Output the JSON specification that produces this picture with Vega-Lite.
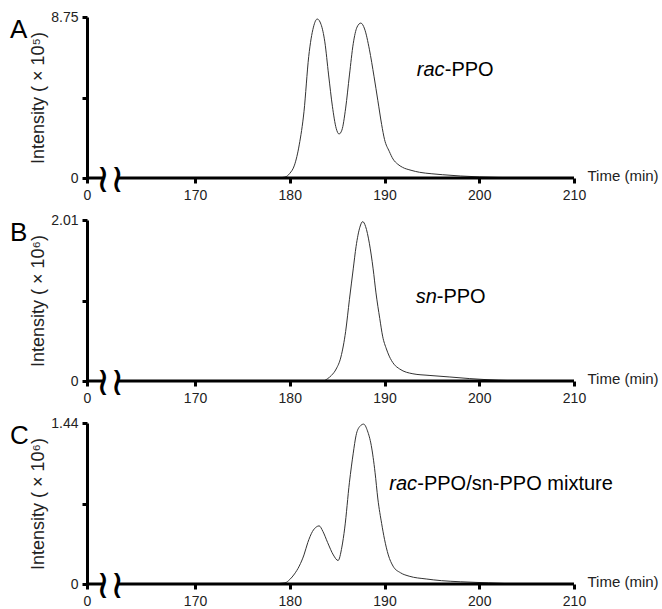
{
  "$schema": "https://vega.github.io/schema/vega-lite/v6.json",
  "background": "white",
  "padding": {"left": 10, "top": 10, "right": 0, "bottom": 0},
  "spacing": 11,
  "datasets": {
    "rac": [
      {"time": 178, "intensity": 0}, {"time": 179, "intensity": 0.02}, {"time": 179.5, "intensity": 0.05},
      {"time": 180, "intensity": 0.25}, {"time": 180.5, "intensity": 0.7}, {"time": 181, "intensity": 1.8},
      {"time": 181.5, "intensity": 3.6}, {"time": 182, "intensity": 6.6}, {"time": 182.5, "intensity": 8.2},
      {"time": 182.9, "intensity": 8.64}, {"time": 183.3, "intensity": 8.35}, {"time": 183.7, "intensity": 7.4},
      {"time": 184.1, "intensity": 5.6}, {"time": 184.5, "intensity": 3.9}, {"time": 184.9, "intensity": 2.7},
      {"time": 185.2, "intensity": 2.39}, {"time": 185.5, "intensity": 2.6}, {"time": 185.9, "intensity": 3.8},
      {"time": 186.3, "intensity": 5.6}, {"time": 186.7, "intensity": 7.3}, {"time": 187.1, "intensity": 8.2},
      {"time": 187.5, "intensity": 8.42}, {"time": 187.9, "intensity": 8.1}, {"time": 188.4, "intensity": 7.0},
      {"time": 188.9, "intensity": 5.5}, {"time": 189.3, "intensity": 4.2}, {"time": 189.7, "intensity": 2.9},
      {"time": 190.0, "intensity": 2.1}, {"time": 190.5, "intensity": 1.45}, {"time": 190.9, "intensity": 1.03},
      {"time": 191.4, "intensity": 0.75}, {"time": 191.9, "intensity": 0.58}, {"time": 192.8, "intensity": 0.42},
      {"time": 193.7, "intensity": 0.31}, {"time": 195, "intensity": 0.23}, {"time": 196.1, "intensity": 0.18},
      {"time": 198, "intensity": 0.11}, {"time": 200, "intensity": 0.06}, {"time": 202, "intensity": 0.03},
      {"time": 205, "intensity": 0.01}, {"time": 210, "intensity": 0}
    ],
    "sn": [
      {"time": 182, "intensity": 0}, {"time": 183.5, "intensity": 0}, {"time": 184, "intensity": 0.03},
      {"time": 184.4, "intensity": 0.07}, {"time": 184.9, "intensity": 0.15}, {"time": 185.4, "intensity": 0.3},
      {"time": 185.9, "intensity": 0.62}, {"time": 186.3, "intensity": 1.02}, {"time": 186.7, "intensity": 1.4},
      {"time": 187.0, "intensity": 1.68}, {"time": 187.4, "intensity": 1.92}, {"time": 187.7, "intensity": 1.99},
      {"time": 188.0, "intensity": 1.93}, {"time": 188.4, "intensity": 1.72}, {"time": 188.8, "intensity": 1.4},
      {"time": 189.1, "intensity": 1.1}, {"time": 189.5, "intensity": 0.78}, {"time": 189.8, "intensity": 0.56},
      {"time": 190.2, "intensity": 0.4}, {"time": 190.5, "intensity": 0.31}, {"time": 191.0, "intensity": 0.21},
      {"time": 191.6, "intensity": 0.15}, {"time": 193.0, "intensity": 0.09}, {"time": 194.7, "intensity": 0.07},
      {"time": 196.9, "intensity": 0.05}, {"time": 199, "intensity": 0.03}, {"time": 202, "intensity": 0.01},
      {"time": 205, "intensity": 0}
    ],
    "mix": [
      {"time": 178, "intensity": 0}, {"time": 179.5, "intensity": 0.01}, {"time": 180.0, "intensity": 0.04},
      {"time": 180.5, "intensity": 0.09}, {"time": 181.0, "intensity": 0.16}, {"time": 181.5, "intensity": 0.26},
      {"time": 181.9, "intensity": 0.37}, {"time": 182.4, "intensity": 0.47}, {"time": 182.8, "intensity": 0.51},
      {"time": 183.1, "intensity": 0.52}, {"time": 183.5, "intensity": 0.47}, {"time": 184.0, "intensity": 0.37},
      {"time": 184.6, "intensity": 0.26}, {"time": 185.1, "intensity": 0.21}, {"time": 185.5, "intensity": 0.33},
      {"time": 185.8, "intensity": 0.5}, {"time": 186.3, "intensity": 0.91}, {"time": 186.7, "intensity": 1.17},
      {"time": 187.0, "intensity": 1.33}, {"time": 187.4, "intensity": 1.41}, {"time": 187.8, "intensity": 1.43},
      {"time": 188.2, "intensity": 1.37}, {"time": 188.6, "intensity": 1.24}, {"time": 189.0, "intensity": 1.0},
      {"time": 189.3, "intensity": 0.76}, {"time": 189.7, "intensity": 0.54}, {"time": 190.0, "intensity": 0.4},
      {"time": 190.4, "intensity": 0.26}, {"time": 190.9, "intensity": 0.16}, {"time": 191.7, "intensity": 0.1},
      {"time": 192.6, "intensity": 0.07}, {"time": 194.4, "intensity": 0.045}, {"time": 196, "intensity": 0.03},
      {"time": 198, "intensity": 0.02}, {"time": 201, "intensity": 0.01}, {"time": 204, "intensity": 0}
    ]
  },
  "vconcat": [
    {
      "width": 487, "height": 161,
      "title": {"text": "A", "anchor": "start", "frame": "group", "fontSize": 26, "fontWeight": "normal", "font": "Liberation Sans", "color": "black", "dx": -77, "dy": 37},
      "layer": [
        {
          "data": {"name": "rac"},
          "mark": {"type": "line", "color": "#333", "strokeWidth": 1, "interpolate": "monotone"},
          "encoding": {
            "x": {"field": "time", "type": "quantitative", "scale": {"domain": [158.6, 210], "nice": false, "zero": false},
              "axis": {"domain": false, "values": [158.6, 170, 180, 190, 200, 210], "labelExpr": "datum.value < 160 ? '0' : format(datum.value, 'd')", "title": "Time (min)", "titleX": 500, "titleY": -3, "titleAlign": "left", "titleBaseline": "middle", "titleAngle": 0, "titleFontSize": 15}},
            "y": {"field": "intensity", "type": "quantitative", "scale": {"domain": [0, 8.75], "nice": false},
              "axis": {"values": [0, 4.375, 8.75], "labelExpr": "datum.value == 0 ? '0' : datum.value > 8 ? '8.75' : ''", "title": "Intensity ( × 10⁵)"}}
          }
        },
        {
          "data": {"values": [{}]},
          "mark": {"type": "rule", "color": "black", "strokeWidth": 3},
          "encoding": {"x": {"datum": 158.6}, "x2": {"datum": 160.3}, "y": {"datum": 0}}
        },
        {
          "data": {"values": [{}]},
          "mark": {"type": "rule", "color": "black", "strokeWidth": 3},
          "encoding": {"x": {"datum": 161.8}, "x2": {"datum": 210}, "y": {"datum": 0}}
        },
        {
          "data": {"values": [{}]},
          "mark": {"type": "text", "font": "DejaVu Sans", "fontSize": 40, "baseline": "middle", "align": "center", "color": "black", "dy": 2},
          "encoding": {"x": {"datum": 160.3}, "y": {"datum": 0}, "text": {"value": "≀"}}
        },
        {
          "data": {"values": [{}]},
          "mark": {"type": "text", "font": "DejaVu Sans", "fontSize": 40, "baseline": "middle", "align": "center", "color": "black", "dy": 2},
          "encoding": {"x": {"datum": 161.8}, "y": {"datum": 0}, "text": {"value": "≀"}}
        },
        {
          "data": {"values": [{}]},
          "mark": {"type": "text", "font": "Liberation Sans", "fontSize": 20, "fontStyle": "italic", "baseline": "middle", "align": "left", "color": "black"},
          "encoding": {"x": {"datum": 193.4}, "y": {"datum": 5.87}, "text": {"value": "rac"}}
        },
        {
          "data": {"values": [{}]},
          "mark": {"type": "text", "font": "Liberation Sans", "fontSize": 20, "baseline": "middle", "align": "left", "color": "black", "dx": 28},
          "encoding": {"x": {"datum": 193.4}, "y": {"datum": 5.87}, "text": {"value": "-PPO"}}
        }
      ]
    },
    {
      "width": 487, "height": 161,
      "title": {"text": "B", "anchor": "start", "frame": "group", "fontSize": 26, "fontWeight": "normal", "font": "Liberation Sans", "color": "black", "dx": -77, "dy": 37},
      "layer": [
        {
          "data": {"name": "sn"},
          "mark": {"type": "line", "color": "#333", "strokeWidth": 1, "interpolate": "monotone"},
          "encoding": {
            "x": {"field": "time", "type": "quantitative", "scale": {"domain": [158.6, 210], "nice": false, "zero": false},
              "axis": {"domain": false, "values": [158.6, 170, 180, 190, 200, 210], "labelExpr": "datum.value < 160 ? '0' : format(datum.value, 'd')", "title": "Time (min)", "titleX": 500, "titleY": -3, "titleAlign": "left", "titleBaseline": "middle", "titleAngle": 0, "titleFontSize": 15}},
            "y": {"field": "intensity", "type": "quantitative", "scale": {"domain": [0, 2.01], "nice": false},
              "axis": {"values": [0, 1.005, 2.01], "labelExpr": "datum.value == 0 ? '0' : datum.value > 2 ? '2.01' : ''", "title": "Intensity ( × 10⁶)"}}
          }
        },
        {
          "data": {"values": [{}]},
          "mark": {"type": "rule", "color": "black", "strokeWidth": 3},
          "encoding": {"x": {"datum": 158.6}, "x2": {"datum": 160.3}, "y": {"datum": 0}}
        },
        {
          "data": {"values": [{}]},
          "mark": {"type": "rule", "color": "black", "strokeWidth": 3},
          "encoding": {"x": {"datum": 161.8}, "x2": {"datum": 210}, "y": {"datum": 0}}
        },
        {
          "data": {"values": [{}]},
          "mark": {"type": "text", "font": "DejaVu Sans", "fontSize": 40, "baseline": "middle", "align": "center", "color": "black", "dy": 2},
          "encoding": {"x": {"datum": 160.3}, "y": {"datum": 0}, "text": {"value": "≀"}}
        },
        {
          "data": {"values": [{}]},
          "mark": {"type": "text", "font": "DejaVu Sans", "fontSize": 40, "baseline": "middle", "align": "center", "color": "black", "dy": 2},
          "encoding": {"x": {"datum": 161.8}, "y": {"datum": 0}, "text": {"value": "≀"}}
        },
        {
          "data": {"values": [{}]},
          "mark": {"type": "text", "font": "Liberation Sans", "fontSize": 20, "fontStyle": "italic", "baseline": "middle", "align": "left", "color": "black"},
          "encoding": {"x": {"datum": 193.3}, "y": {"datum": 1.046}, "text": {"value": "sn"}}
        },
        {
          "data": {"values": [{}]},
          "mark": {"type": "text", "font": "Liberation Sans", "fontSize": 20, "baseline": "middle", "align": "left", "color": "black", "dx": 21},
          "encoding": {"x": {"datum": 193.3}, "y": {"datum": 1.046}, "text": {"value": "-PPO"}}
        }
      ]
    },
    {
      "width": 487, "height": 161,
      "title": {"text": "C", "anchor": "start", "frame": "group", "fontSize": 26, "fontWeight": "normal", "font": "Liberation Sans", "color": "black", "dx": -77, "dy": 37},
      "layer": [
        {
          "data": {"name": "mix"},
          "mark": {"type": "line", "color": "#333", "strokeWidth": 1, "interpolate": "monotone"},
          "encoding": {
            "x": {"field": "time", "type": "quantitative", "scale": {"domain": [158.6, 210], "nice": false, "zero": false},
              "axis": {"domain": false, "values": [158.6, 170, 180, 190, 200, 210], "labelExpr": "datum.value < 160 ? '0' : format(datum.value, 'd')", "title": "Time (min)", "titleX": 500, "titleY": -3, "titleAlign": "left", "titleBaseline": "middle", "titleAngle": 0, "titleFontSize": 15}},
            "y": {"field": "intensity", "type": "quantitative", "scale": {"domain": [0, 1.44], "nice": false},
              "axis": {"values": [0, 0.72, 1.44], "labelExpr": "datum.value == 0 ? '0' : datum.value > 1.4 ? '1.44' : ''", "title": "Intensity ( × 10⁶)"}}
          }
        },
        {
          "data": {"values": [{}]},
          "mark": {"type": "rule", "color": "black", "strokeWidth": 3},
          "encoding": {"x": {"datum": 158.6}, "x2": {"datum": 160.3}, "y": {"datum": 0}}
        },
        {
          "data": {"values": [{}]},
          "mark": {"type": "rule", "color": "black", "strokeWidth": 3},
          "encoding": {"x": {"datum": 161.8}, "x2": {"datum": 210}, "y": {"datum": 0}}
        },
        {
          "data": {"values": [{}]},
          "mark": {"type": "text", "font": "DejaVu Sans", "fontSize": 40, "baseline": "middle", "align": "center", "color": "black", "dy": 2},
          "encoding": {"x": {"datum": 160.3}, "y": {"datum": 0}, "text": {"value": "≀"}}
        },
        {
          "data": {"values": [{}]},
          "mark": {"type": "text", "font": "DejaVu Sans", "fontSize": 40, "baseline": "middle", "align": "center", "color": "black", "dy": 2},
          "encoding": {"x": {"datum": 161.8}, "y": {"datum": 0}, "text": {"value": "≀"}}
        },
        {
          "data": {"values": [{}]},
          "mark": {"type": "text", "font": "Liberation Sans", "fontSize": 20, "fontStyle": "italic", "baseline": "middle", "align": "left", "color": "black"},
          "encoding": {"x": {"datum": 190.5}, "y": {"datum": 0.894}, "text": {"value": "rac"}}
        },
        {
          "data": {"values": [{}]},
          "mark": {"type": "text", "font": "Liberation Sans", "fontSize": 20, "baseline": "middle", "align": "left", "color": "black", "dx": 28},
          "encoding": {"x": {"datum": 190.5}, "y": {"datum": 0.894}, "text": {"value": "-PPO/sn-PPO mixture"}}
        }
      ]
    }
  ],
  "config": {
    "font": "Liberation Sans",
    "view": {"stroke": null},
    "axis": {
      "grid": false,
      "domainColor": "black", "domainWidth": 3,
      "tickColor": "black", "tickWidth": 3, "tickSize": 5,
      "labelColor": "#222", "labelFont": "Liberation Sans", "labelFontSize": 14, "labelPadding": 4,
      "titleColor": "#222", "titleFont": "Liberation Sans", "titleFontSize": 18, "titleFontWeight": "normal", "titlePadding": 3
    },
    "axisX": {"labelFlush": false, "labelOverlap": false, "labelPadding": 5},
    "axisY": {"labelOverlap": false}
  }
}
